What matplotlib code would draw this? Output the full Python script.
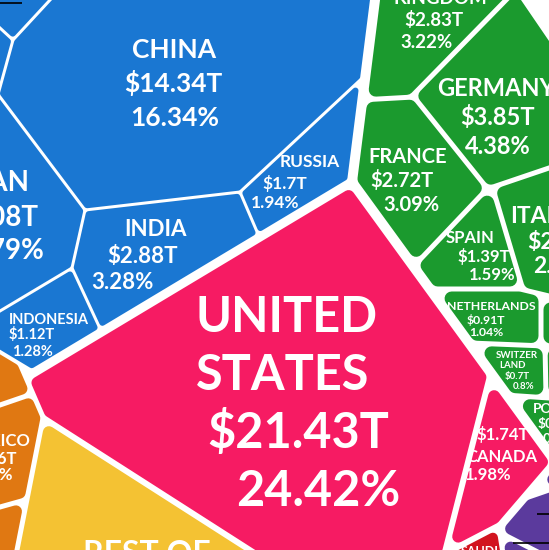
import numpy as np
import matplotlib
matplotlib.use('Agg')
import matplotlib.pyplot as plt
from matplotlib.patches import Polygon

# --- data: GDP (trillion USD) and share of world GDP (%) ---
countries = ['UNITED STATES', 'CHINA', 'JAPAN', 'GERMANY', 'INDIA', 'UNITED KINGDOM',
             'FRANCE', 'ITALY', 'CANADA', 'RUSSIA', 'SPAIN', 'MEXICO', 'INDONESIA',
             'NETHERLANDS', 'SWITZERLAND', 'POLAND', 'SAUDI ARABIA']
display_names = ['UNITED\nSTATES', 'CHINA', 'JAPAN', 'GERMANY', 'INDIA', 'UNITED\nKINGDOM',
                 'FRANCE', 'ITALY', 'CANADA', 'RUSSIA', 'SPAIN', 'MEXICO', 'INDONESIA',
                 'NETHERLANDS', 'SWITZER\nLAND', 'POLAND', 'SAUDI\nARABIA']
gdp = [21.43, 14.34, 5.08, 3.85, 2.88, 2.83, 2.72, 2.0, 1.74, 1.7, 1.39, 1.26, 1.12,
       0.91, 0.7, 0.59, 0.79]
share = [24.42, 16.34, 5.79, 4.38, 3.28, 3.22, 3.09, 2.28, 1.98, 1.94, 1.59, 1.43, 1.28,
         1.04, 0.8, 0.67, 0.9]
regions = ['N_AMERICA', 'ASIA', 'ASIA', 'EUROPE', 'ASIA', 'EUROPE',
           'EUROPE', 'EUROPE', 'N_AMERICA', 'ASIA', 'EUROPE', 'LATAM', 'ASIA',
           'EUROPE', 'EUROPE', 'EUROPE', 'MIDEAST']
# cells that are only partly in view and carry no visible label
other_cells = ['asia_a', 'asia_b', 'europe_a', 'europe_b', 'latam_a', 'latam_b',
               'REST OF\nTHE WORLD', 'other_a', 'other_b', 'other_c']
other_regions = ['ASIA', 'ASIA', 'EUROPE', 'EUROPE', 'LATAM', 'LATAM',
                 'REST', 'OTHER', 'OTHER', 'OTHER']

# --- styles per region: colour, gap inside the region, corner radius (px) ---
STYLE = {
    'ASIA':      dict(color='#1a77d2', gap=3, r=3),
    'EUROPE':    dict(color='#1b9a2e', gap=5, r=7),
    'N_AMERICA': dict(color='#f61b63', gap=6, r=6),
    'LATAM':     dict(color='#e07812', gap=5, r=6),
    'REST':      dict(color='#f4c233', gap=5, r=6),
    'MIDEAST':   dict(color='#d2141f', gap=5, r=5),
    'OTHER':     dict(color='#5b3a9d', gap=5, r=6),
}

# --- voronoi layout: a point inside every cell, and the cut lines between cells ---
ANCHOR = {
    'UNITED STATES': (290, 400), 'CANADA': (500, 455), 'CHINA': (174, 80),
    'JAPAN': (20, 220), 'INDIA': (150, 250), 'RUSSIA': (300, 170),
    'INDONESIA': (40, 330), 'asia_a': (10, 10), 'asia_b': (3, 45),
    'UNITED KINGDOM': (430, 30), 'GERMANY': (500, 120), 'FRANCE': (400, 170),
    'SPAIN': (480, 250), 'ITALY': (535, 240), 'NETHERLANDS': (490, 315),
    'SWITZERLAND': (517, 370), 'POLAND': (540, 420), 'europe_a': (546, 320),
    'europe_b': (548, 370), 'MEXICO': (15, 450), 'latam_a': (12, 380),
    'latam_b': (5, 530), 'REST OF\nTHE WORLD': (150, 520), 'SAUDI ARABIA': (482, 546),
    'other_a': (545, 480), 'other_b': (530, 512), 'other_c': (510, 542),
}

REGION_CUTS = [
    ('ASIA', 'EUROPE', (375, 0), (352, 182), 10),
    ('ASIA', 'N_AMERICA', (350, 183), (30, 375), 9),
    ('EUROPE', 'N_AMERICA', (352, 182), (552, 457), 10),
    ('ASIA', 'LATAM', (0, 352), (30, 370), 4),
    ('N_AMERICA', 'LATAM', (30, 387), (43, 417), 5),
    ('N_AMERICA', 'REST', (45, 419), (245, 547), 6),
    ('LATAM', 'REST', (43, 418), (17, 550), 5),
    ('N_AMERICA', 'OTHER', (550, 468), (490, 538), 8),
    ('N_AMERICA', 'MIDEAST', (452, 550), (500, 525), 6),
    ('OTHER', 'MIDEAST', (499, 528), (504, 560), 5),
    ('EUROPE', 'OTHER', (530, 452), (549, 450), 8),
    ('EUROPE', None, (521, 0), (549, 41), 0),   # outer rim of the map
]

CELL_CUTS = [
    ('asia_a', 'CHINA', (50, 0), (13, 40)),
    ('asia_a', 'asia_b', (13, 40), (0, 28)),
    ('asia_b', 'CHINA', (13, 40), (2, 80)),
    ('CHINA', 'JAPAN', (0, 97), (85, 210)),
    ('CHINA', 'INDIA', (85, 210), (240, 192)),
    ('JAPAN', 'INDIA', (85, 210), (72, 268)),
    ('JAPAN', 'INDONESIA', (72, 268), (0, 311)),
    ('INDIA', 'INDONESIA', (72, 268), (97, 322)),
    ('CHINA', 'RUSSIA', (240, 192), (357, 83)),
    ('INDIA', 'RUSSIA', (240, 192), (252, 220)),
    ('UNITED KINGDOM', 'GERMANY', (412, 96), (506, 0)),
    ('UNITED KINGDOM', 'FRANCE', (360, 100), (414, 97)),
    ('FRANCE', 'GERMANY', (414, 97), (487, 188)),
    ('GERMANY', 'ITALY', (490, 188), (549, 168)),
    ('FRANCE', 'SPAIN', (487, 189), (413, 267)),
    ('SPAIN', 'ITALY', (493, 189), (521, 283)),
    ('GERMANY', 'SPAIN', (482, 189), (500, 188)),
    ('SPAIN', 'NETHERLANDS', (420, 289), (525, 289)),
    ('ITALY', 'NETHERLANDS', (520, 289), (549, 296)),
    ('NETHERLANDS', 'europe_a', (541, 296), (541, 345)),
    ('ITALY', 'europe_a', (535, 300), (549, 300)),
    ('NETHERLANDS', 'SWITZERLAND', (470, 343), (545, 346)),
    ('europe_a', 'europe_b', (540, 346), (549, 346)),
    ('SWITZERLAND', 'europe_b', (545, 346), (546, 395)),
    ('SWITZERLAND', 'POLAND', (505, 395), (549, 398)),
    ('europe_b', 'POLAND', (530, 396), (549, 396)),
    ('UNITED STATES', 'CANADA', (489, 380), (446, 548)),
    ('latam_a', 'MEXICO', (0, 405), (35, 393)),
    ('MEXICO', 'latam_b', (0, 507), (25, 500)),
    ('other_a', 'other_b', (520, 500), (549, 490)),
    ('other_b', 'other_c', (495, 530), (530, 548)),
]

# --- label placement: (line centre x, y), font size, alignment; line order ---
LABELS = {
    'UNITED STATES': dict(pos=[(287, 314), (283, 372), (298, 430), (318, 488)], size=35),
    'CHINA': dict(pos=[(174, 49), (173, 83), (175, 116)], size=19),
    'JAPAN': dict(pos=[(30, 181), (38, 216), (45, 249)], size=20, ha='right'),
    'GERMANY': dict(pos=[(437, 88), (460, 116), (465, 146)], size=17, ha='left'),
    'INDIA': dict(pos=[(155, 228), (143, 255), (122, 281)], size=16),
    'UNITED KINGDOM': dict(pos=[(440, -26), (440, -3), (434, 19), (427, 41)], size=13.5),
    'FRANCE': dict(pos=[(408, 156), (402, 180), (411, 204)], size=14.5),
    'ITALY': dict(pos=[(510, 215), (527, 241), (533, 265)], size=16.5, ha='left'),
    'CANADA': dict(pos=[(502, 456), (503, 434), (488, 474)], size=12),
    'RUSSIA': dict(pos=[(310, 161), (285, 183), (275, 202)], size=12.5),
    'SPAIN': dict(pos=[(470, 237), (484, 256), (492, 274)], size=12),
    'MEXICO': dict(pos=[(30, 440), (17, 458), (13, 474)], size=12, ha='right'),
    'INDONESIA': dict(pos=[(9, 319), (9, 334), (12, 351)], size=10.5, ha='left'),
    'NETHERLANDS': dict(pos=[(491, 306), (486, 320), (486, 332)], size=8.8),
    'SWITZERLAND': dict(pos=[(517, 354), (512, 364.5), (517, 375), (524, 385.5)], size=7),
    'POLAND': dict(pos=[(533, 408), (538, 423), (543, 438)], size=10, ha='left'),
    'SAUDI ARABIA': dict(pos=[(480, 551), (480, 566)], size=9),
    'REST OF\nTHE WORLD': dict(pos=[(147, 553), (147, 585)], size=23),
}

LEADERS = [((0, 22), (3, 3)), ((537, 549), (514, 514)), ((513, 549), (543, 543))]

W, H = 549, 550
BOX = np.array([[-400, -400], [950, -400], [950, 950], [-400, 950]], float)


def clip(poly, p1, p2, keep, off):
    # keep the side of line p1-p2 that holds point `keep`, moved inwards by `off`
    p1 = np.asarray(p1, float)
    d = np.subtract(p2, p1).astype(float)
    n = np.array([d[1], -d[0]]) / np.hypot(*d)
    if np.dot(np.subtract(keep, p1), n) < 0:
        n = -n
    s = (poly - p1) @ n - off
    out = []
    for i in range(len(poly)):
        j = (i + 1) % len(poly)
        if s[i] >= 0:
            out.append(poly[i])
        if s[i] * s[j] < 0:
            out.append(poly[i] + (poly[j] - poly[i]) * s[i] / (s[i] - s[j]))
    return np.array(out)


def fmt(v):
    return f'{v:g}'


cell_region = dict(zip(countries, regions))
cell_region.update(dict(zip(other_cells, other_regions)))

fig = plt.figure(figsize=(W / 100, H / 100), dpi=100)
ax = fig.add_axes([0, 0, 1, 1])
ax.set_xlim(0, W)
ax.set_ylim(H, 0)
ax.axis('off')

for name, reg in cell_region.items():
    st = STYLE[reg]
    r = st['r']
    poly = BOX.copy()
    for a, b, p1, p2, gap in REGION_CUTS:
        if reg in (a, b):
            poly = clip(poly, p1, p2, ANCHOR[name], gap / 2 + r)
    for a, b, p1, p2 in CELL_CUTS:
        if name in (a, b):
            poly = clip(poly, p1, p2, ANCHOR[name], st['gap'] / 2 + r)
    if len(poly) < 3:
        continue
    ax.add_patch(Polygon(poly, closed=True, fc=st['color'], ec=st['color'],
                         lw=2 * r * 0.72, joinstyle='round'))

# labels
names = dict(zip(countries, display_names))
names.update({c: c for c in other_cells})
values = {c: (g, s) for c, g, s in zip(countries, gdp, share)}
for name, lab in LABELS.items():
    lines = names[name].split('\n')
    if name in values:
        g, s = values[name]
        lines = lines + [f'${fmt(g)}T', f'{fmt(s)}%']
    size = lab['size']
    for text, (x, y) in zip(lines, lab['pos']):
        ax.text(x, y + size / 2, text, ha=lab.get('ha', 'center'), va='baseline',
                fontsize=size, color='white', fontweight='bold', family=['Lato', 'DejaVu Sans'])

for xs, ys in LEADERS:
    ax.plot(xs, ys, color='black', lw=1.2, solid_capstyle='butt')

fig.savefig('out.png', dpi=100, facecolor='white')
